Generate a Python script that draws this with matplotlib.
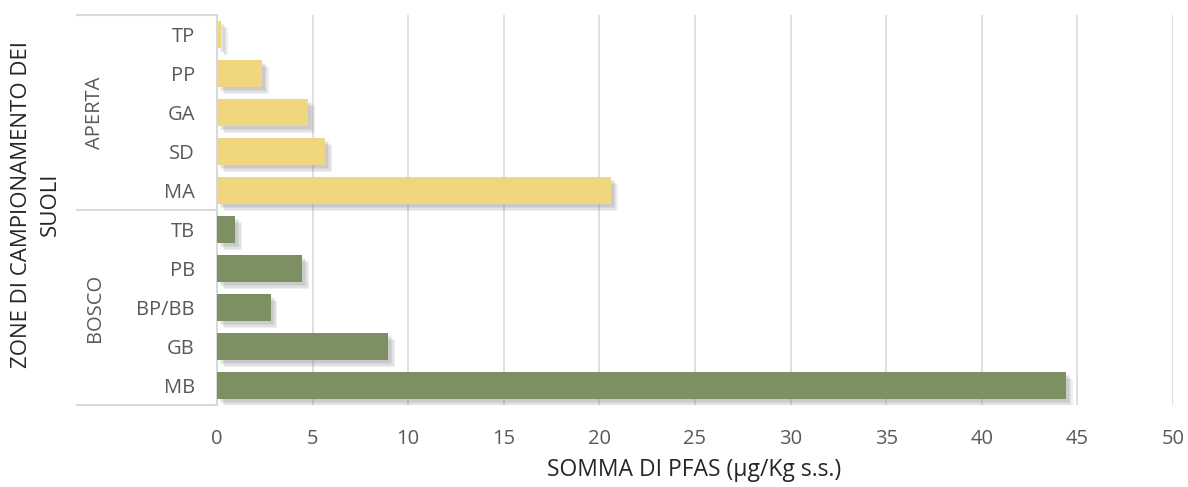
import matplotlib.pyplot as plt
import matplotlib.patheffects as pe

plt.rcParams['font.family'] = ['Open Sans', 'DejaVu Sans']

# data, bottom to top as drawn
categories = ["MB", "GB", "BP/BB", "PB", "TB", "MA", "SD", "GA", "PP", "TP"]
values = [44.4, 8.95, 2.8, 4.45, 0.95, 20.6, 5.65, 4.75, 2.35, 0.2]
groups = ["BOSCO"] * 5 + ["APERTA"] * 5
group_colors = {"BOSCO": "#7c9063", "APERTA": "#f0d77f"}
xticks = [0, 5, 10, 15, 20, 25, 30, 35, 40, 45, 50]

text_col = "#595959"
line_col = "#d9d9d9"

fig = plt.figure(figsize=(11.88, 4.87), dpi=100)
ax = fig.add_axes([217 / 1188, 1 - 405 / 487, (1173 - 217) / 1188, 390 / 487])

ypos = list(range(len(categories)))
colors = [group_colors[g] for g in groups]
bars = ax.barh(ypos, values, height=0.69, color=colors, zorder=3)
# soft drop shadow, faked with a few stacked offsets
shadow = [pe.SimplePatchShadow(offset=(o, -o), shadow_rgbFace="#7f7f7f", alpha=0.12) for o in (2, 3, 4, 5)]
for b in bars:
    b.set_path_effects(shadow + [pe.Normal()])

ax.set_xlim(0, 50)
ax.set_ylim(-0.5, len(categories) - 0.5)
ax.set_xticks(xticks)
ax.set_xticklabels([str(t) for t in xticks], fontsize=14.5, color=text_col)
ax.tick_params(axis='x', length=0, pad=17)
ax.set_yticks(ypos)
ax.set_yticklabels(categories, fontsize=14.5, color=text_col)
ax.tick_params(axis='y', length=0, pad=16)
ax.xaxis.grid(True, color=line_col, linewidth=1.2, zorder=0)

for s in ["top", "right", "bottom"]:
    ax.spines[s].set_visible(False)
ax.spines["left"].set_color(line_col)
ax.spines["left"].set_linewidth(1.5)

# group separators and labels on the left
trans = ax.get_yaxis_transform()
x_left = (77 - 217) / (1173 - 217)
for yv in [-0.5, 4.5, 9.5]:
    ax.plot([x_left, 0], [yv, yv], transform=trans, color=line_col, lw=1.5, clip_on=False)
x_grp = (95 - 217) / (1173 - 217)
ax.text(x_grp, 7, "APERTA", transform=trans, rotation=90, ha='center', va='center',
        fontsize=14.5, color=text_col)
ax.text(x_grp, 2, "BOSCO", transform=trans, rotation=90, ha='center', va='center',
        fontsize=14.5, color=text_col)

fig.text(36 / 1188, 1 - 204 / 487, "ZONE DI CAMPIONAMENTO DEI\nSUOLI", rotation=90,
         ha='center', va='center', fontsize=16, color="#262626", linespacing=1.5,
         multialignment='center')
fig.text(694 / 1188, 1 - 470 / 487, "SOMMA DI PFAS (µg/Kg s.s.)", ha='center', va='center',
         fontsize=16.5, color="#262626")

plt.savefig("out.png", dpi=100)
